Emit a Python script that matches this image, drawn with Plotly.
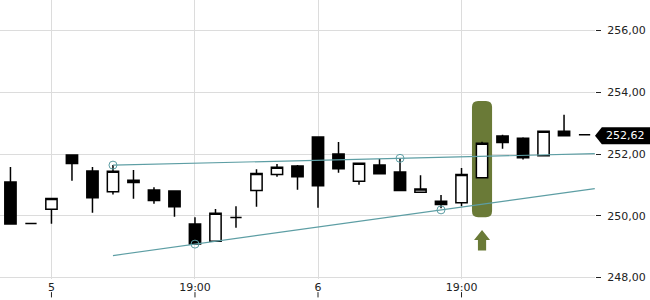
import plotly.graph_objects as go

# ---- data ----
idx = list(range(29))
opens = [251.09, 249.75, 250.21, 251.97, 251.45, 250.78, 251.08, 250.83, 250.80, 249.73,
         249.17, 249.94, 250.82, 251.34, 251.61, 252.55, 252.00, 251.12, 251.64, 251.42,
         250.76, 250.47, 250.42, 251.23, 252.58, 252.51, 251.94, 252.74, 252.62]
highs = [251.58, 249.75, 250.56, 251.98, 251.58, 251.64, 251.48, 250.92, 250.80, 249.95,
         250.22, 250.31, 251.51, 251.68, 251.64, 252.55, 252.39, 251.70, 251.84, 251.86,
         251.31, 250.67, 251.55, 252.40, 252.62, 252.54, 252.74, 253.27, 252.62]
lows = [249.73, 249.75, 249.74, 251.13, 250.10, 250.69, 250.55, 250.39, 249.97, 249.08,
        249.17, 249.61, 250.29, 251.26, 250.84, 250.26, 251.39, 251.00, 251.36, 250.82,
        250.76, 250.24, 250.31, 251.23, 252.17, 251.82, 251.94, 252.59, 252.62]
closes = [249.73, 249.75, 250.56, 251.69, 250.58, 251.44, 251.15, 250.49, 250.29, 249.08,
          250.08, 249.94, 251.37, 251.57, 251.26, 250.97, 251.52, 251.70, 251.36, 250.82,
          250.87, 250.36, 251.34, 252.35, 252.37, 251.88, 252.74, 252.59, 252.62]

x_tick_vals = [2, 9, 15, 22]
x_tick_text = ["5", "19:00", "6", "19:00"]
y_tick_vals = [248, 250, 252, 254, 256]
y_tick_text = ["248,00", "250,00", "252,00", "254,00", "256,00"]

trend_x = [5, 28.5]
upper_trend = [251.64, 252.01]
lower_trend = [248.71, 250.88]
touch_x = [5, 19, 9, 21]
touch_y = [251.64, 251.86, 249.08, 250.19]

last_price = 252.62
last_label = "252,62"

hl_index = 23
hl_top, hl_bottom = 253.72, 249.95
arrow_top, arrow_neck, arrow_bottom = 249.54, 249.21, 248.87

# ---- styles ----
TEAL = "#5d9ea4"
OLIVE = "#6a7a37"
GRID = "#dcdcdc"
TXT = "#222222"
FONT = "DejaVu Sans"

fig = go.Figure()

fig.add_trace(go.Candlestick(
    x=idx, open=opens, high=highs, low=lows, close=closes,
    increasing=dict(line=dict(color="black", width=1.5), fillcolor="white"),
    decreasing=dict(line=dict(color="black", width=1.5), fillcolor="black"),
    whiskerwidth=0, hoverinfo="skip", showlegend=False,
))

fig.add_trace(go.Scatter(x=trend_x, y=upper_trend, mode="lines",
                         line=dict(color=TEAL, width=1.2), hoverinfo="skip", showlegend=False))
fig.add_trace(go.Scatter(x=trend_x, y=lower_trend, mode="lines",
                         line=dict(color=TEAL, width=1.2), hoverinfo="skip", showlegend=False))
fig.add_trace(go.Scatter(x=touch_x, y=touch_y, mode="markers",
                         marker=dict(symbol="circle-open", size=8, color=TEAL, line=dict(width=1)),
                         hoverinfo="skip", showlegend=False))

# highlight rounded box
hw, rx, ry = 0.49, 0.3, 0.2
x0, x1 = hl_index - hw, hl_index + hw
y0, y1 = hl_bottom, hl_top
path = (f"M {x0+rx},{y1} L {x1-rx},{y1} Q {x1},{y1} {x1},{y1-ry} L {x1},{y0+ry} "
        f"Q {x1},{y0} {x1-rx},{y0} L {x0+rx},{y0} Q {x0},{y0} {x0},{y0+ry} "
        f"L {x0},{y1-ry} Q {x0},{y1} {x0+rx},{y1} Z")
fig.add_shape(type="path", path=path, xref="x", yref="y", fillcolor=OLIVE,
              line=dict(width=0), layer="between")

# up arrow
ah, sh = 0.39, 0.2
apath = (f"M {hl_index},{arrow_top} L {hl_index+ah},{arrow_neck} L {hl_index+sh},{arrow_neck} "
         f"L {hl_index+sh},{arrow_bottom} L {hl_index-sh},{arrow_bottom} L {hl_index-sh},{arrow_neck} "
         f"L {hl_index-ah},{arrow_neck} Z")
fig.add_shape(type="path", path=apath, xref="x", yref="y", fillcolor=OLIVE,
              line=dict(width=0), layer="above")

# x tick marks below the labels
for v in x_tick_vals:
    fig.add_shape(type="line", xref="x", yref="paper", x0=v, x1=v, y0=-0.047, y1=-0.066,
                  line=dict(color=TXT, width=1))

# last price tag
fig.add_shape(type="path", xref="paper", yref="y", ysizemode="pixel", yanchor=last_price,
              path="M 1.0,-1 L 1.0115,7.5 L 1.2,7.5 L 1.2,-9.5 L 1.0115,-9.5 Z",
              fillcolor="black", line=dict(width=0))
fig.add_annotation(x=1.0, y=last_price, xref="paper", yref="y", text=last_label,
                   showarrow=False, xanchor="left", xshift=9, yshift=-1,
                   font=dict(family=FONT, size=11, color="white"))

fig.update_layout(
    width=650, height=300, autosize=False,
    margin=dict(l=0, r=55, t=0, b=21),
    paper_bgcolor="white", plot_bgcolor="white",
    font=dict(family=FONT, size=11, color=TXT),
    boxgap=0.45, boxgroupgap=0,
    hovermode=False,
)
fig.update_xaxes(range=[-0.51, 28.51], tickvals=x_tick_vals, ticktext=x_tick_text,
                 showgrid=True, gridcolor=GRID, gridwidth=1, zeroline=False, showline=False,
                 ticks="", rangeslider=dict(visible=False), fixedrange=True,
                 tickfont=dict(family=FONT, size=11, color=TXT))
fig.update_yaxes(range=[247.95, 256.99], side="right", tickvals=y_tick_vals, ticktext=y_tick_text,
                 showgrid=True, gridcolor=GRID, gridwidth=1, zeroline=False, showline=False,
                 ticks="outside", ticklen=5, tickcolor=TXT, tickwidth=1,
                 ticklabelstandoff=4, fixedrange=True,
                 tickfont=dict(family=FONT, size=11, color=TXT))

fig.write_html("out.html")
